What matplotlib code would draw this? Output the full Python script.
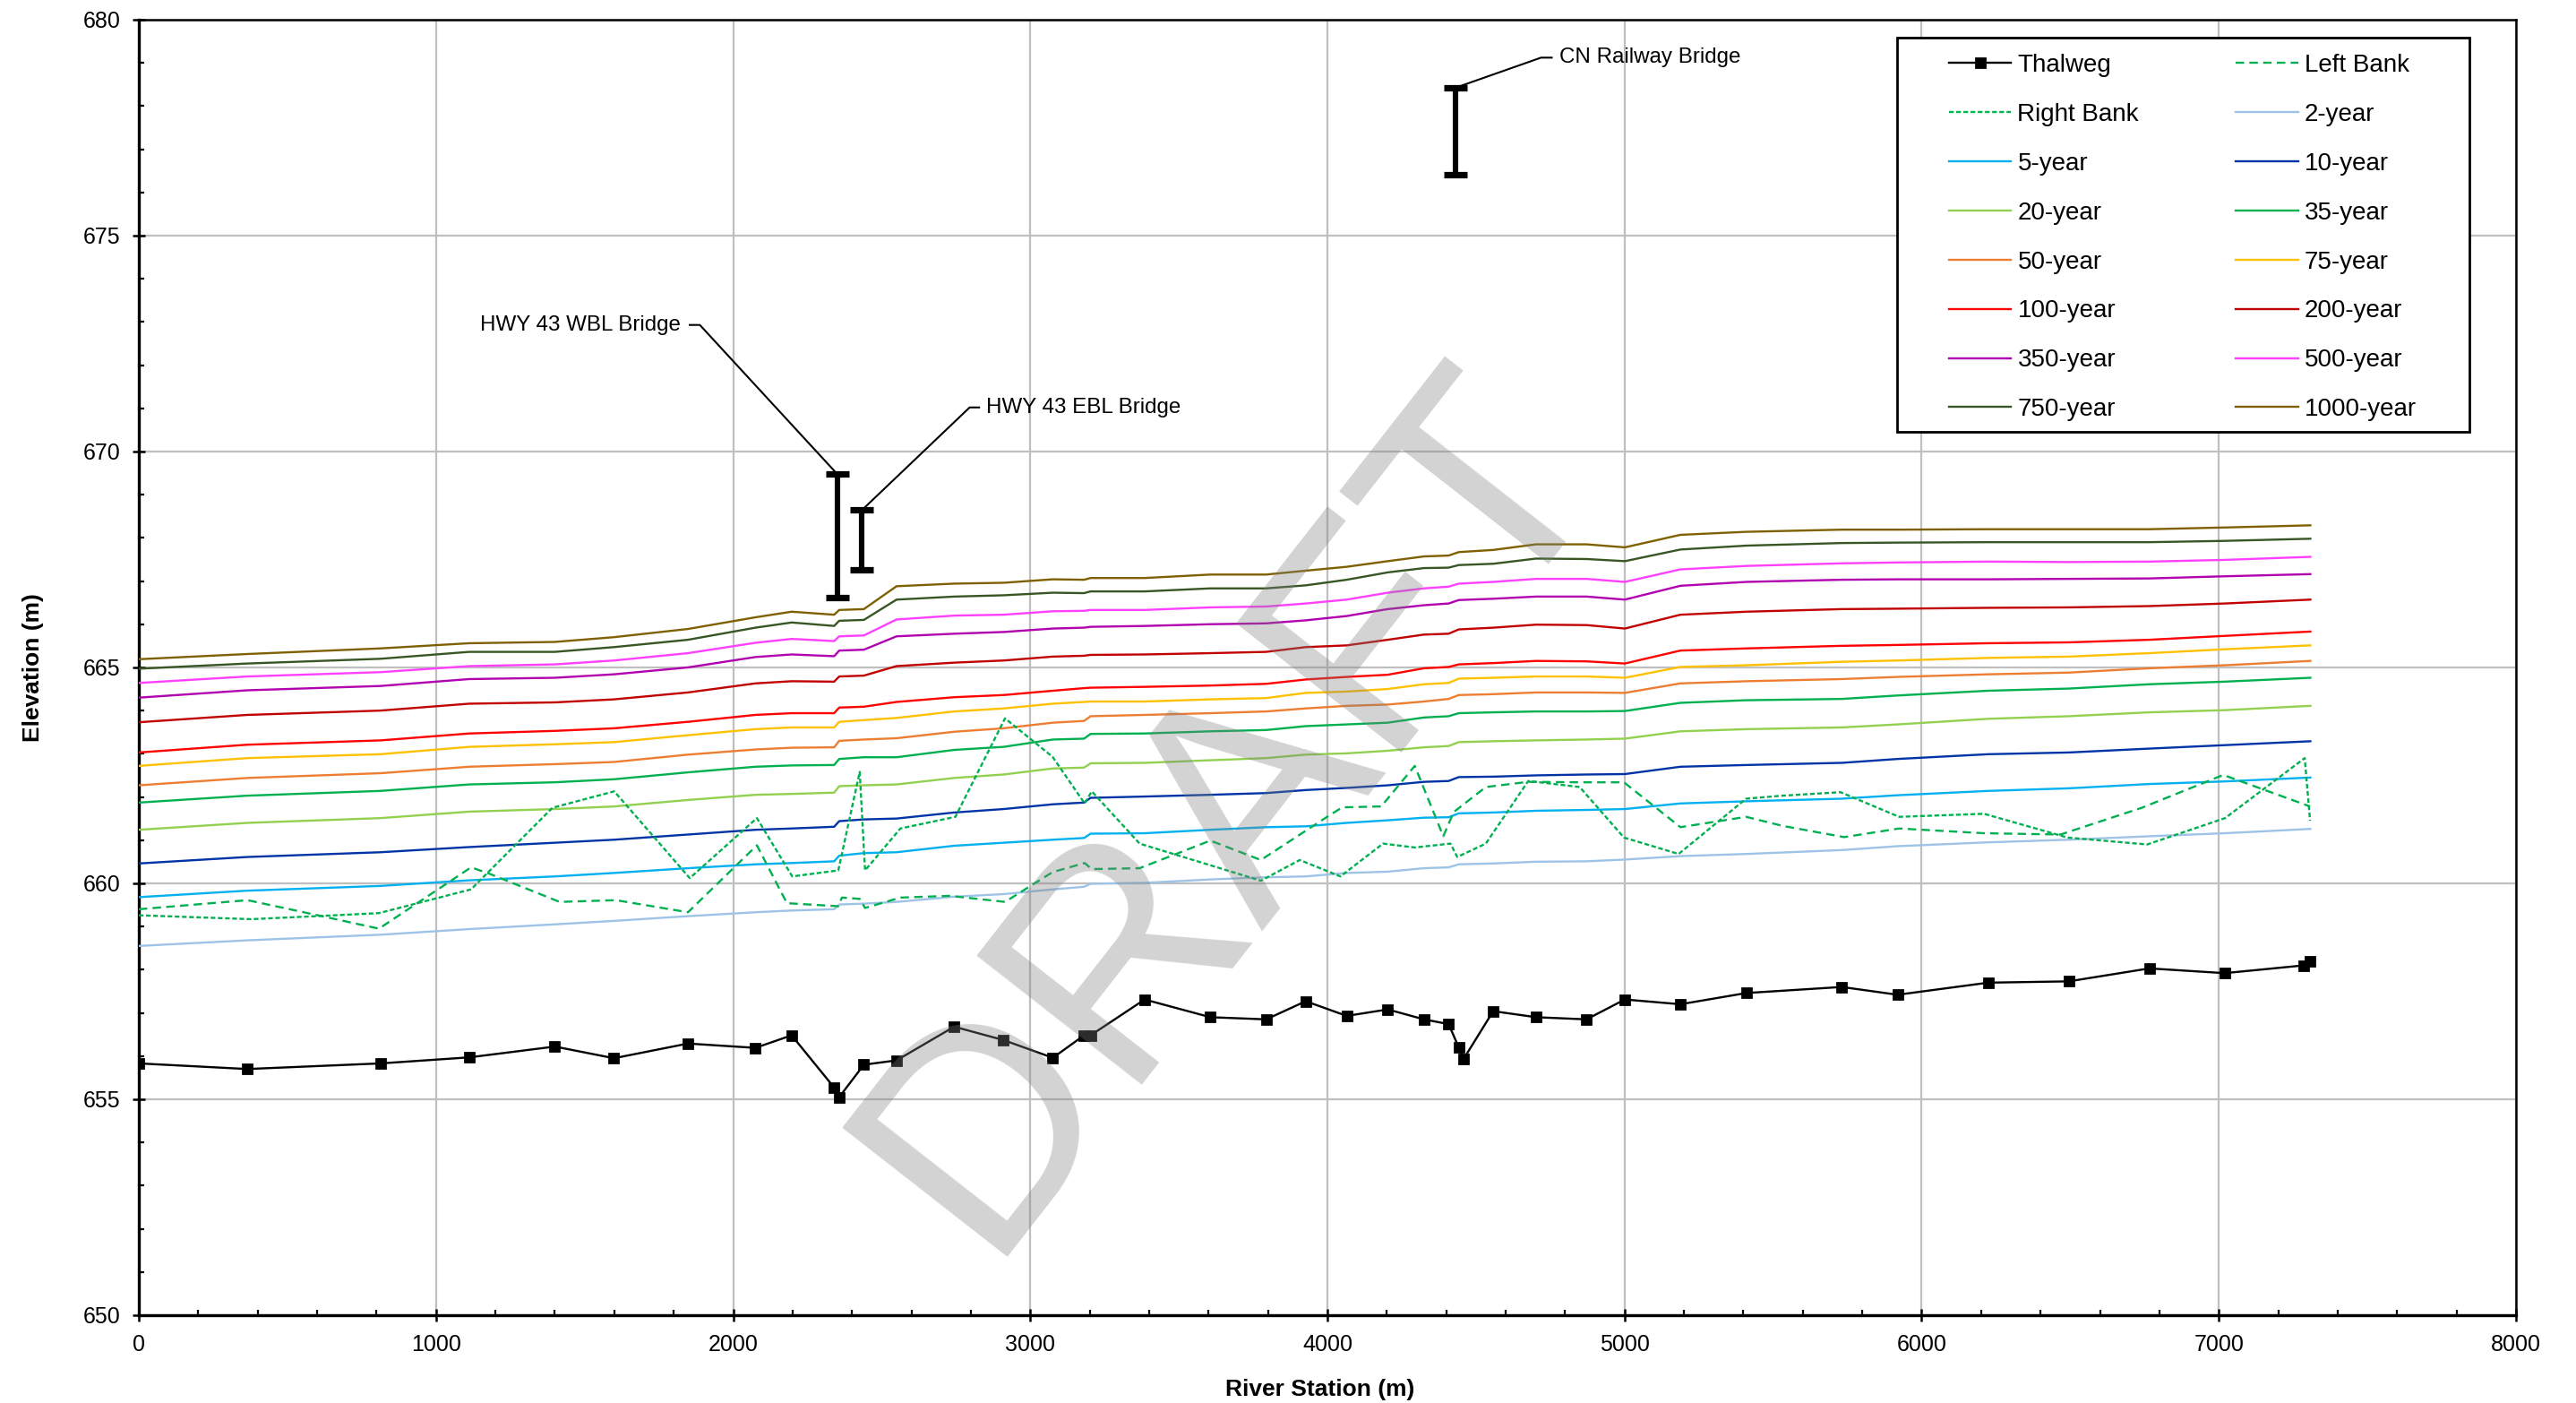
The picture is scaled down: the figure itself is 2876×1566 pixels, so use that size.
import numpy as np
import matplotlib.pyplot as plt
from matplotlib.lines import Line2D
from matplotlib.patches import Rectangle

plt.rcParams['font.family'] = ['Liberation Sans', 'DejaVu Sans']

# ------------- thalweg (channel bottom) -------------
thalweg_st = [0, 365, 813, 1112, 1400, 1599, 1848, 2075, 2197, 2340, 2357, 2440, 2550, 2744,
              2910, 3076, 3181, 3203, 3385, 3606, 3794, 3927, 4065, 4203, 4325, 4408, 4442,
              4459, 4558, 4702, 4872, 5001, 5188, 5410, 5731, 5919, 6224, 6495, 6766, 7020,
              7286, 7308]
thalweg_el = [655.83, 655.70, 655.83, 655.97, 656.22, 655.95, 656.29, 656.19, 656.48, 655.27,
              655.05, 655.80, 655.90, 656.68, 656.37, 655.96, 656.48, 656.48, 657.31, 656.90,
              656.85, 657.27, 656.93, 657.08, 656.85, 656.74, 656.20, 655.94, 657.04, 656.90,
              656.85, 657.31, 657.20, 657.46, 657.60, 657.42, 657.70, 657.73, 658.03, 657.92,
              658.10, 658.20]

# ------------- banks -------------
left_st = [0, 366, 629, 808, 1118, 1177, 1416, 1606, 1848, 2080, 2181, 2354, 2366, 2426, 2444,
           2563, 2730, 2915, 3075, 3183, 3207, 3368, 3606, 3776, 4008, 4050, 4181, 4294, 4390,
           4425, 4533, 4676, 4855, 4998, 5188, 5326, 5409, 5532, 5739, 5924, 6210, 6467, 6741,
           7015, 7307]
left_el = [659.40, 659.61, 659.22, 658.95, 660.37, 660.23, 659.57, 659.61, 659.33, 660.88,
           659.54, 659.47, 659.67, 659.64, 659.43, 659.67, 659.71, 659.57, 660.26, 660.47,
           660.33, 660.35, 660.99, 660.54, 661.58, 661.76, 661.78, 662.72, 661.09, 661.65,
           662.23, 662.35, 662.34, 662.34, 661.30, 661.45, 661.54, 661.33, 661.07, 661.27,
           661.16, 661.13, 661.75, 662.51, 661.78]

right_st = [0, 378, 629, 808, 1118, 1392, 1600, 1854, 2080, 2199, 2354, 2426, 2444, 2563, 2748,
            2915, 3075, 3183, 3207, 3368, 3776, 3907, 4044, 4187, 4294, 4414, 4437, 4533, 4676,
            4849, 4998, 5182, 5409, 5532, 5727, 5924, 6210, 6491, 6759, 7021, 7289, 7307]
right_el = [659.26, 659.17, 659.25, 659.31, 659.86, 661.75, 662.13, 660.12, 661.51, 660.16,
            660.30, 662.58, 660.30, 661.27, 661.54, 663.82, 662.93, 661.85, 662.13, 660.92,
            660.06, 660.54, 660.16, 660.92, 660.83, 660.92, 660.61, 660.92, 662.37, 662.23,
            661.06, 660.68, 661.96, 662.03, 662.11, 661.54, 661.61, 661.06, 660.90, 661.51,
            662.90, 661.45]

# ------------- water surface profiles -------------
wsp_st = [0, 365, 813, 1112, 1400, 1599, 1848, 2075, 2197, 2340, 2357, 2440, 2550, 2744, 2910,
          3076, 3181, 3203, 3385, 3606, 3794, 3927, 4065, 4203, 4325, 4408, 4442, 4558, 4702,
          4872, 5001, 5188, 5410, 5731, 5919, 6224, 6495, 6766, 7020, 7308]

wsp_2 = [658.55, 658.68, 658.81, 658.94, 659.05, 659.13, 659.24, 659.33, 659.37, 659.40, 659.51,
         659.53, 659.57, 659.69, 659.75, 659.86, 659.92, 659.99, 660.01, 660.09, 660.14, 660.16,
         660.24, 660.27, 660.35, 660.37, 660.44, 660.46, 660.50, 660.51, 660.55, 660.63, 660.68,
         660.77, 660.86, 660.95, 661.01, 661.09, 661.16, 661.26]
wsp_5 = [659.68, 659.83, 659.94, 660.07, 660.16, 660.24, 660.35, 660.44, 660.47, 660.51, 660.64,
         660.70, 660.72, 660.87, 660.94, 661.01, 661.05, 661.15, 661.16, 661.24, 661.30, 661.32,
         661.40, 661.46, 661.52, 661.53, 661.62, 661.64, 661.68, 661.70, 661.72, 661.85, 661.90,
         661.96, 662.04, 662.14, 662.20, 662.30, 662.36, 662.45]
wsp_10 = [660.46, 660.61, 660.72, 660.84, 660.94, 661.01, 661.13, 661.24, 661.27, 661.31, 661.44,
          661.48, 661.50, 661.64, 661.72, 661.83, 661.87, 661.98, 662.01, 662.05, 662.09, 662.16,
          662.21, 662.27, 662.35, 662.37, 662.46, 662.47, 662.50, 662.52, 662.53, 662.70, 662.74,
          662.79, 662.88, 662.99, 663.03, 663.12, 663.20, 663.29]
wsp_20 = [661.24, 661.40, 661.51, 661.66, 661.72, 661.78, 661.93, 662.05, 662.07, 662.10, 662.25,
          662.27, 662.29, 662.44, 662.52, 662.66, 662.68, 662.78, 662.79, 662.85, 662.90, 662.98,
          663.01, 663.07, 663.15, 663.18, 663.27, 663.29, 663.31, 663.33, 663.35, 663.52, 663.57,
          663.61, 663.68, 663.81, 663.87, 663.96, 664.01, 664.11]
wsp_35 = [661.87, 662.03, 662.14, 662.29, 662.34, 662.41, 662.57, 662.70, 662.73, 662.74, 662.88,
          662.92, 662.92, 663.09, 663.16, 663.33, 663.35, 663.46, 663.47, 663.52, 663.55, 663.64,
          663.68, 663.72, 663.84, 663.87, 663.94, 663.96, 663.98, 663.98, 663.99, 664.18, 664.24,
          664.27, 664.35, 664.46, 664.51, 664.61, 664.67, 664.76]
wsp_50 = [662.27, 662.44, 662.55, 662.70, 662.76, 662.81, 662.98, 663.10, 663.14, 663.15, 663.30,
          663.33, 663.36, 663.51, 663.59, 663.72, 663.76, 663.87, 663.90, 663.94, 663.98, 664.05,
          664.11, 664.14, 664.21, 664.27, 664.36, 664.38, 664.42, 664.42, 664.41, 664.63, 664.68,
          664.73, 664.78, 664.84, 664.88, 664.98, 665.05, 665.15]
wsp_75 = [662.72, 662.90, 662.99, 663.16, 663.22, 663.27, 663.43, 663.57, 663.61, 663.61, 663.74,
          663.78, 663.83, 663.98, 664.05, 664.16, 664.20, 664.21, 664.21, 664.26, 664.29, 664.41,
          664.44, 664.50, 664.61, 664.64, 664.74, 664.76, 664.79, 664.79, 664.76, 665.01, 665.05,
          665.13, 665.16, 665.22, 665.25, 665.33, 665.42, 665.51]
wsp_100 = [663.03, 663.21, 663.31, 663.47, 663.53, 663.59, 663.74, 663.90, 663.94, 663.94, 664.07,
           664.09, 664.20, 664.31, 664.36, 664.46, 664.52, 664.53, 664.55, 664.58, 664.62, 664.72,
           664.78, 664.83, 664.98, 665.01, 665.07, 665.10, 665.15, 665.14, 665.09, 665.39, 665.44,
           665.50, 665.52, 665.56, 665.58, 665.64, 665.73, 665.83]
wsp_200 = [663.73, 663.90, 664.00, 664.16, 664.19, 664.26, 664.42, 664.63, 664.68, 664.67, 664.79,
           664.81, 665.03, 665.11, 665.16, 665.25, 665.27, 665.29, 665.30, 665.33, 665.36, 665.47,
           665.51, 665.64, 665.76, 665.78, 665.88, 665.92, 665.99, 665.98, 665.90, 666.22, 666.29,
           666.35, 666.36, 666.38, 666.39, 666.42, 666.48, 666.57]
wsp_350 = [664.30, 664.47, 664.57, 664.73, 664.76, 664.84, 665.00, 665.24, 665.30, 665.26, 665.39,
           665.41, 665.72, 665.78, 665.82, 665.90, 665.92, 665.94, 665.96, 666.00, 666.02, 666.09,
           666.19, 666.35, 666.44, 666.48, 666.56, 666.59, 666.64, 666.64, 666.57, 666.89, 666.98,
           667.03, 667.04, 667.04, 667.05, 667.06, 667.11, 667.16]
wsp_500 = [664.64, 664.79, 664.89, 665.03, 665.07, 665.16, 665.33, 665.57, 665.66, 665.61, 665.72,
           665.74, 666.11, 666.20, 666.22, 666.30, 666.31, 666.33, 666.33, 666.39, 666.41, 666.48,
           666.57, 666.73, 666.83, 666.87, 666.94, 666.98, 667.05, 667.05, 666.98, 667.27, 667.35,
           667.41, 667.43, 667.45, 667.44, 667.45, 667.49, 667.56]
wsp_750 = [664.97, 665.09, 665.20, 665.36, 665.36, 665.47, 665.64, 665.92, 666.04, 665.96, 666.08,
           666.10, 666.57, 666.64, 666.67, 666.73, 666.72, 666.76, 666.76, 666.83, 666.83, 666.90,
           667.03, 667.20, 667.30, 667.31, 667.37, 667.40, 667.52, 667.51, 667.46, 667.73, 667.82,
           667.88, 667.89, 667.90, 667.90, 667.90, 667.93, 667.98]
wsp_1000 = [665.19, 665.31, 665.44, 665.56, 665.59, 665.70, 665.89, 666.16, 666.29, 666.22, 666.33,
            666.35, 666.88, 666.94, 666.96, 667.04, 667.03, 667.07, 667.07, 667.15, 667.15, 667.24,
            667.33, 667.46, 667.57, 667.59, 667.67, 667.72, 667.85, 667.85, 667.78, 668.07, 668.14,
            668.19, 668.19, 668.20, 668.20, 668.20, 668.24, 668.29]

profiles = [("2-year", wsp_2, "#9DC3E6"),
            ("5-year", wsp_5, "#00B0F0"),
            ("10-year", wsp_10, "#0033A6"),
            ("20-year", wsp_20, "#92D050"),
            ("35-year", wsp_35, "#00B050"),
            ("50-year", wsp_50, "#ED7D31"),
            ("75-year", wsp_75, "#FFC000"),
            ("100-year", wsp_100, "#FF0000"),
            ("200-year", wsp_200, "#C00000"),
            ("350-year", wsp_350, "#B000B0"),
            ("500-year", wsp_500, "#FF40FF"),
            ("750-year", wsp_750, "#375623"),
            ("1000-year", wsp_1000, "#7F6000")]

# ------------- bridges (station, low chord, high chord) -------------
bridge_names = ["HWY 43 WBL Bridge", "HWY 43 EBL Bridge", "CN Railway Bridge"]
bridge_st = [2350, 2433, 4430]
bridge_low = [666.61, 667.25, 676.41]
bridge_high = [669.48, 668.64, 678.42]

# -----------------  Plot Start  -----------------
fig = plt.figure(figsize=(14.38, 7.83), dpi=200)
ax = fig.add_axes([0.0539, 0.0626, 0.9228, 0.9234])

lw = 0.85
for name, el, col in profiles:
    ax.plot(wsp_st, el, color=col, lw=lw, zorder=3)
ax.plot(left_st, left_el, color="#00B050", lw=lw, ls=(0, (4, 2.5)), zorder=3)
ax.plot(right_st, right_el, color="#00B050", lw=lw, ls=(0, (2.2, 1.2)), zorder=3)
ax.plot(thalweg_st, thalweg_el, color="k", lw=lw, marker="s", ms=3.6, zorder=4)

# bridges
mid = (np.array(bridge_low) + np.array(bridge_high)) / 2
half = (np.array(bridge_high) - np.array(bridge_low)) / 2
ax.errorbar(bridge_st, mid, yerr=half, fmt="none", ecolor="k", elinewidth=2.2,
            capsize=4.8, capthick=2.6, zorder=4)

# labels with leader lines
lab_x = [1822, 2853, 4780]
lab_y = [672.93, 671.02, 679.12]
stub = [(1854, 1888), (2828, 2796), (4755, 4719)]
for i, name in enumerate(bridge_names):
    ha = "right" if i == 0 else "left"
    ax.text(lab_x[i], lab_y[i], name, ha=ha, va="center", fontsize=8.7)
    s0, s1 = stub[i]
    ax.plot([s0, s1, bridge_st[i]], [lab_y[i], lab_y[i], bridge_high[i]],
            color="k", lw=0.75, zorder=4)

# axes
ax.set_xlim(0, 8000)
ax.set_ylim(650, 680)
ax.set_xticks(np.arange(0, 8001, 1000))
ax.set_xticks(np.arange(0, 8001, 200), minor=True)
ax.set_yticks(np.arange(650, 681, 5))
ax.set_yticks(np.arange(650, 681, 1), minor=True)
ax.grid(which="major", color="#BFBFBF", lw=0.8, zorder=0)
ax.set_axisbelow(True)
ax.tick_params(which="major", direction="inout", length=5, width=0.9, labelsize=9, pad=5)
ax.tick_params(which="minor", direction="in", length=2.2, width=0.8)
for sp in ax.spines.values():
    sp.set_linewidth(0.9)
ax.spines["left"].set_linewidth(1.2)
ax.spines["bottom"].set_linewidth(1.2)

ax.set_xlabel("River Station (m)", fontsize=9.5, fontweight="bold")
ax.set_ylabel("Elevation (m)", fontsize=9.5, fontweight="bold")
ax.xaxis.set_label_coords(0.497, -0.049)
ax.yaxis.set_label_coords(-0.040, 0.5)

# legend (row order as in the chart, filled column by column)
h = {"Thalweg": Line2D([], [], color="k", lw=lw, marker="s", ms=3.6),
     "Left Bank": Line2D([], [], color="#00B050", lw=lw, ls=(0, (4, 2.5))),
     "Right Bank": Line2D([], [], color="#00B050", lw=lw, ls=(0, (2.2, 1.2)))}
for name, el, col in profiles:
    h[name] = Line2D([], [], color=col, lw=lw)
rows = ["Thalweg", "Left Bank", "Right Bank"] + [p[0] for p in profiles]
order = rows[0::2] + rows[1::2]
leg = ax.legend([h[k] for k in order], order, ncol=2, loc="upper left",
                bbox_to_anchor=(0.7615, 0.9737), frameon=False, fontsize=10,
                borderpad=0, borderaxespad=0, handlelength=2.5, handletextpad=0.25,
                labelspacing=1.04, columnspacing=3.9)
leg.set_zorder(7)
ax.add_patch(Rectangle((0.7396, 0.6819), 0.2408, 0.3043, transform=ax.transAxes,
                       facecolor="white", edgecolor="k", lw=1.0, zorder=6))

# watermark
ax.text(0.46, 0.39, "DRAFT", transform=ax.transAxes, rotation=52, fontsize=122,
        color="#808080", alpha=0.35, ha="center", va="center", zorder=10)

plt.savefig("out.png", dpi=200)
